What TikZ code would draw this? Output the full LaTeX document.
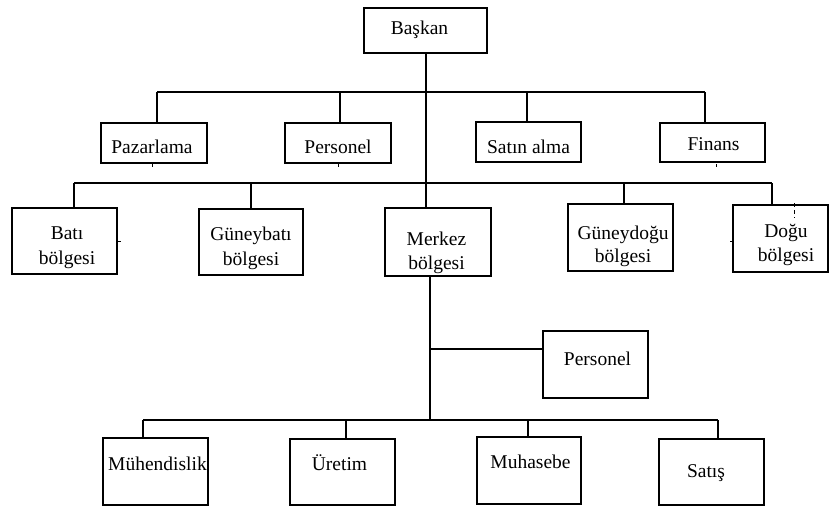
\documentclass[tikz,border=0pt]{standalone}
\usepackage{fontspec}
\setmainfont{Liberation Serif}
\begin{document}
\begin{tikzpicture}[x=1pt,y=-1pt,
  line width=1.1pt,
  box/.style={draw, inner sep=0pt, minimum width=#1},
  txt/.style={inner sep=0pt, anchor=base, align=center,
    font=\fontsize{19.5}{25}\selectfont},
  skip/.style={font=\fontsize{19.5}{#1}\selectfont},
  link/.style={draw}]
\useasboundingbox (0,0) rectangle (829,506);

% --- boxes: (centre) with width and height ---
\node[box=123, minimum height=45] (baskan)      at (425.5,30.5) {};
\node[box=106, minimum height=40] (pazarlama)   at (154,143) {};
\node[box=106, minimum height=40] (personel)    at (338,143) {};
\node[box=105, minimum height=40] (satinalma)   at (528.5,142) {};
\node[box=105, minimum height=39] (finans)      at (712.5,142.5) {};
\node[box=105, minimum height=66] (bati)        at (64.5,241) {};
\node[box=104, minimum height=66] (guneybati)   at (251,242) {};
\node[box=106, minimum height=68] (merkez)      at (438,242) {};
\node[box=105, minimum height=67] (guneydogu)   at (620.5,237.5) {};
\node[box=95,  minimum height=67] (dogu)        at (780.5,238.5) {};
\node[box=105, minimum height=67] (personelb)   at (595.5,364.5) {};
\node[box=105, minimum height=67] (muhendislik) at (155.5,471.5) {};
\node[box=105, minimum height=66] (uretim)      at (342.5,472) {};
\node[box=104, minimum height=67] (muhasebe)    at (529,470.5) {};
\node[box=105, minimum height=66] (satis)       at (711.5,472) {};

% --- texts (two-line labels are placed at the baseline of the last line) ---
\node[txt] (t-baskan)      at (419.5,34)  {Başkan};
\node[txt] (t-pazarlama)   at (152,153)   {Pazarlama};
\node[txt] (t-personel)    at (338,153)   {Personel};
\node[txt] (t-satinalma)   at (528.5,153) {Satın alma};
\node[txt] (t-finans)      at (713.5,150) {Finans};
\node[txt, skip=25] (t-bati)      at (67,264)    {Batı\\bölgesi};
\node[txt, skip=25] (t-guneybati) at (251,265)   {Güneybatı\\bölgesi};
\node[txt, skip=24] (t-merkez)    at (436.5,269) {Merkez\\bölgesi};
\node[txt, skip=23] (t-guneydogu) at (623,262)   {Güneydoğu\\bölgesi};
\node[txt, skip=24] (t-dogu)      at (786,261)   {Doğu\\bölgesi};
\node[txt] (t-personelb)   at (597.5,365) {Personel};
\node[txt] (t-muhendislik) at (157.5,470) {Mühendislik};
\node[txt] (t-uretim)      at (339.5,470) {Üretim};
\node[txt] (t-muhasebe)    at (530.5,468) {Muhasebe};
\node[txt] (t-satis)       at (706,477)   {Satış};

% --- bus lines and trunks ---
\coordinate (trunk) at (426,0);
\coordinate (busA-l) at (157,92);
\coordinate (busA-r) at (705,92);
\coordinate (busB-l) at (74,183);
\coordinate (busB-r) at (772,183);
\coordinate (busC-l) at (143,420);
\coordinate (busC-r) at (718,420);
\coordinate (merkez-out) at (430,0);

% main trunk from the president down to the central region
\draw[link] (trunk |- baskan.south) -- (trunk |- merkez.north);

% headquarters departments
\draw[link] (busA-l) -- (busA-r);
\draw[link] (busA-l) -- (busA-l |- pazarlama.north);
\draw[link] (busA-l -| 340,0) -- (340,0 |- personel.north);
\draw[link] (busA-l -| 527,0) -- (527,0 |- satinalma.north);
\draw[link] (busA-r) -- (busA-r |- finans.north);

% regions
\draw[link] (busB-l) -- (busB-r);
\draw[link] (busB-l) -- (busB-l |- bati.north);
\draw[link] (busB-l -| 251,0) -- (251,0 |- guneybati.north);
\draw[link] (busB-l -| 624,0) -- (624,0 |- guneydogu.north);
\draw[link] (busB-r) -- (busB-r |- dogu.north);

% central region units
\draw[link] (merkez-out |- merkez.south) -- (merkez-out |- busC-l);
\draw[link] (merkez-out |- 0,349) -- (personelb.west |- 0,349);
\draw[link] (busC-l) -- (busC-r);
\draw[link] (busC-l) -- (busC-l |- muhendislik.north);
\draw[link] (busC-l -| 346,0) -- (346,0 |- uretim.north);
\draw[link] (busC-l -| 528,0) -- (528,0 |- muhasebe.north);
\draw[link] (busC-r) -- ([yshift=-2pt]busC-r |- satis.north);

% small stubs on box borders
\draw[line width=0.9pt] (pazarlama.south -| 152,0) -- ++(0,3);
\draw[line width=0.9pt] (personel.south -| 338,0) -- ++(0,3);
\draw[line width=0.9pt] ([yshift=-1.5pt]finans.south -| 716,0) -- ++(0,3);
\draw[line width=0.9pt] (bati.east |- 0,241) -- ++(3,0);
\draw[line width=0.9pt] (dogu.west |- 0,241) -- ++(-2,0);
\draw[line width=0.9pt, dash pattern=on 4pt off 3pt] (794,203) -- (794,218);
\end{tikzpicture}
\end{document}
